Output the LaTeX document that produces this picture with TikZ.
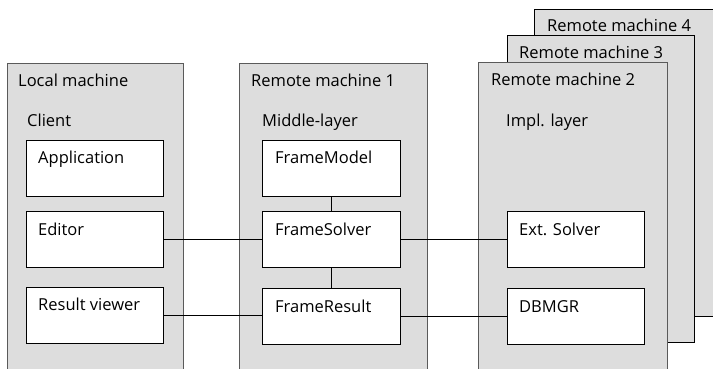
\documentclass[tikz,border=0pt]{standalone}
\usepackage{fontspec}
\setmainfont{Open Sans}
\definecolor{machfill}{RGB}{221,221,221}
\definecolor{machline}{RGB}{90,90,90}
\tikzset{
  machine/.style={draw=machline, fill=machfill, line width=1pt, anchor=north west, inner sep=0pt},
  machineb/.style={machine, draw=black},
  comp/.style={draw=black, fill=white, line width=1pt, anchor=north west, inner sep=0pt, minimum width=137pt, minimum height=56pt},
  lbl/.style={anchor=base west, inner sep=0pt, font=\fontsize{16.5}{19}\selectfont},
  conn/.style={draw=black, line width=1pt}
}
\begin{document}
\begin{tikzpicture}[x=1pt,y=-1pt]
\useasboundingbox (0,0) rectangle (713,369);
\clip (0,0) rectangle (713,369);
\fill[white] (0,0) rectangle (713,369);
% machines
\node[machine, minimum width=176pt, minimum height=320pt] (local) at (7,63) {};
\node[machine, minimum width=188pt, minimum height=320pt] (rm1) at (239,63) {};
\node[machineb, minimum width=190pt, minimum height=307pt] (rm4) at (534,9) {};
\node[machineb, minimum width=187pt, minimum height=307pt] (rm3) at (507,35) {};
\node[machine, minimum width=189pt, minimum height=320pt] (rm2) at (478,62) {};
% machine titles
\node[lbl] (tlocal) at (18,87) {Local machine};
\node[lbl] (trm1) at (251,87) {Remote machine 1};
\node[lbl] (trm2) at (491,86) {Remote machine 2};
\node[lbl] (trm3) at (519,59) {Remote machine 3};
\node[lbl] (trm4) at (547,32) {Remote machine 4};
% layer titles
\node[lbl] (tclient) at (27,126) {Client};
\node[lbl] (tmiddle) at (262,126) {Middle-layer};
\node[lbl] (timpl) at (506,126) {Impl. layer};
% components
\node[comp] (app) at (26,140) {};
\node[comp] (editor) at (26,211) {};
\node[comp] (rv) at (26,287) {};
\node[comp, minimum width=138pt] (fmodel) at (262,140) {};
\node[comp, minimum width=138pt] (fsolver) at (262,211) {};
\node[comp, minimum width=138pt] (fresult) at (262,288) {};
\node[comp] (ext) at (507,211) {};
\node[comp] (dbmgr) at (507,288) {};
% component labels
\node[lbl] (tapp) at (38,163) {Application};
\node[lbl] (teditor) at (38,235) {Editor};
\node[lbl] (trv) at (38,310) {Result viewer};
\node[lbl] (tfmodel) at (275,163) {FrameModel};
\node[lbl] (tfsolver) at (275,235) {FrameSolver};
\node[lbl] (tfresult) at (275,312) {FrameResult};
\node[lbl] (text) at (519,235) {Ext. Solver};
\node[lbl] (tdbmgr) at (519,312) {DBMGR};
% connectors
\draw[conn] (editor.east) -- (fsolver.west);
\draw[conn] (rv.east) -- (rv.east -| fresult.west);
\draw[conn] (fsolver.east) -- (ext.west);
\draw[conn] (fresult.east) -- (dbmgr.west);
\draw[conn] (fmodel.south) -- (fsolver.north);
\draw[conn] (fsolver.south) -- (fresult.north);
\end{tikzpicture}
\end{document}
